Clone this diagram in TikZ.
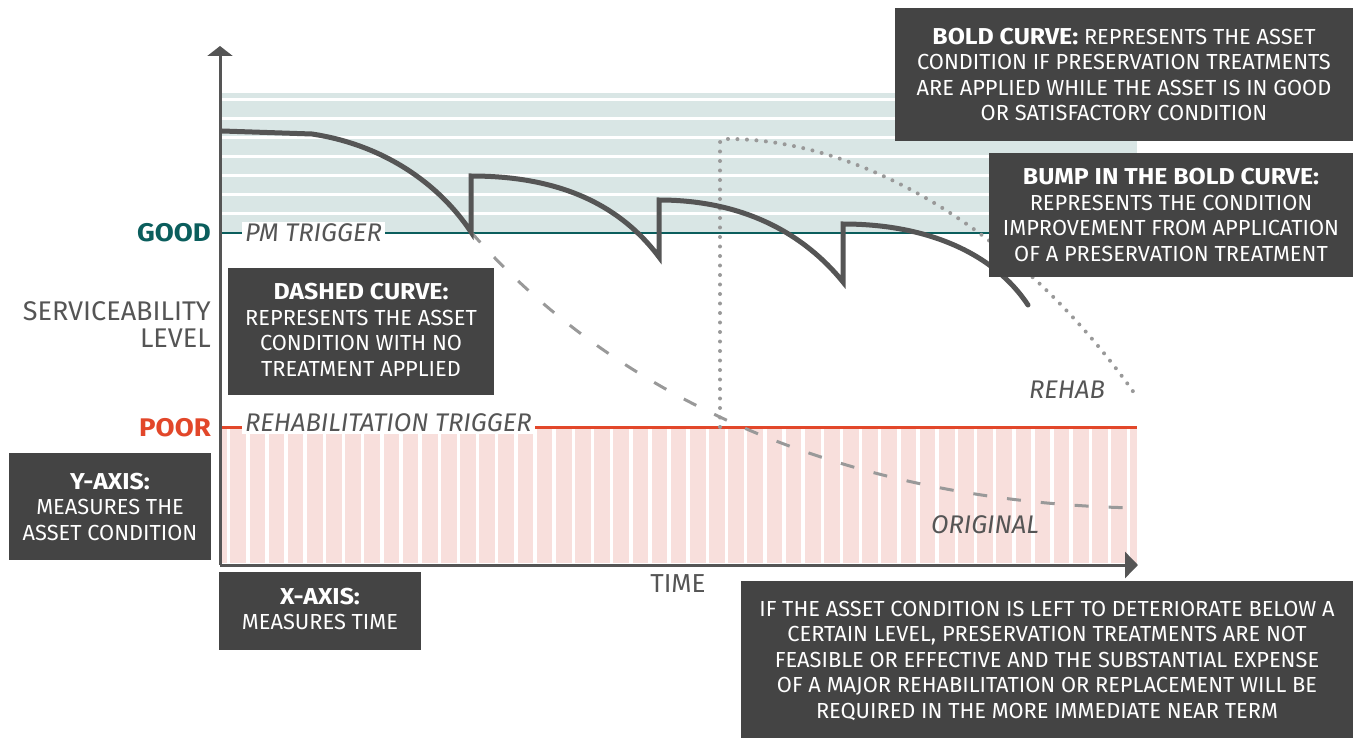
\documentclass[tikz,border=0pt]{standalone}
\usepackage{fontspec}
\setmainfont{Fira Sans}
\newfontfamily\hdfont[FakeStretch=1.08]{Fira Sans}
\usetikzlibrary{arrows.meta}
\definecolor{boxgray}{HTML}{444444}
\definecolor{axisgray}{HTML}{555555}
\definecolor{goodteal}{HTML}{0B5E5D}
\definecolor{poorred}{HTML}{E2472A}
\definecolor{greenband}{HTML}{D9E6E5}
\definecolor{redband}{HTML}{F8DFDC}
\definecolor{dashgray}{HTML}{999999}
\newcommand{\hd}[1]{{\hdfont\bfseries\fontsize{23}{25.5}\selectfont #1}}
\tikzset{
  infobox/.style={fill=boxgray, text=white, align=center, inner sep=0pt,
    font=\fontsize{21.8}{25.5}\selectfont},
  axislabel/.style={text=axisgray, inner sep=0pt, font=\fontsize{27}{27}\selectfont},
  levellabel/.style={anchor=east, inner sep=0pt, font=\hdfont\bfseries\fontsize{25.5}{27}\selectfont},
  triglabel/.style={fill=white, text=axisgray, inner xsep=3pt, inner ysep=2pt,
    font=\fontsize{25.5}{27}\selectfont\itshape},
  curvelabel/.style={text=axisgray, inner sep=0pt, font=\fontsize{25.5}{27}\selectfont\itshape},
  boldcurve/.style={draw=axisgray, line width=5pt, line cap=round, line join=miter},
  nocurve/.style={draw=dashgray, line width=3pt, dash pattern=on 14pt off 20pt},
  rehabcurve/.style={draw=dashgray, line width=4pt, line cap=round, dash pattern=on 0pt off 9.5pt},
  axisline/.style={draw=axisgray, line width=3pt},
}
\begin{document}
\begin{tikzpicture}[x=1pt,y=-1pt]
\useasboundingbox (0,0) rectangle (1353,738);
% bands
\fill[greenband] (220,93) rectangle (1137,233);
\foreach \yy in {100,119,138,157,176,195,214}
  \draw[white, line width=3pt] (220,\yy) -- (1137,\yy);
\fill[redband] (220,427) rectangle (1137,563);
\foreach \k in {0,...,47}
  \draw[white, line width=3.5pt] ({228.6+19.15*\k},429) -- ({228.6+19.15*\k},563);
% threshold lines
\coordinate (g0) at (220,233);
\coordinate (g1) at (1137,233);
\coordinate (p0) at (220,427);
\coordinate (p1) at (1137,427);
\draw[goodteal, line width=2.5pt] (g0) -- (g1);
\draw[poorred, line width=3pt] (p0) -- (p1);
\node[triglabel, anchor=west] (pm) at (242,233) {PM TRIGGER};
\node[triglabel, anchor=west] (rt) at (242,423) {REHABILITATION TRIGGER};
% level labels
\node[levellabel, text=goodteal] (good) at (211,233) {GOOD};
\node[levellabel, text=poorred] (poor) at (211,428) {POOR};
\node[axislabel, anchor=east, align=right] (serv) at (211,325) {SERVICEABILITY\\LEVEL};
% curves
\draw[nocurve] (471,232) .. controls (600,380) and (820,502) .. (1137,508);
\draw[rehabcurve] (720,427) -- (720,145) .. controls (720,139) .. (728,139) .. controls (860,139) and (1020,230) .. (1137,397);
\draw[boldcurve] (222,131) -- (312,134) .. controls (385,145) and (440,185) .. (471,232)
  -- (471,176) .. controls (560,176) and (620,205) .. (659,257)
  -- (659,200) .. controls (745,200) and (805,235) .. (843,282)
  -- (843,224) .. controls (930,224) and (995,255) .. (1028,305);
\node[curvelabel] (rehab) at (1067,390) {REHAB};
\node[curvelabel] (orig) at (985,525) {ORIGINAL};
% axes
\coordinate (origin) at (220,565);
\coordinate (ytop) at (220,46);
\coordinate (xend) at (1138,565);
\draw[axisline, -{Triangle[length=10pt,width=25pt]}] (origin) -- (ytop);
\draw[axisline, -{Triangle[length=13pt,width=26pt]}] (origin) -- (xend);
\node[axislabel, font=\fontsize{26}{26}\selectfont] (time) at (678,584) {TIME};
% info boxes
\node[infobox, minimum width=458pt, minimum height=133pt, text depth=-4pt] (boldbox) at (1124,74.5)
  {\hd{BOLD CURVE:} REPRESENTS THE ASSET\\CONDITION IF PRESERVATION TREATMENTS\\ARE APPLIED WHILE THE ASSET IS IN GOOD\\OR SATISFACTORY CONDITION};
\node[infobox, minimum width=364pt, minimum height=124pt] (bumpbox) at (1171,215)
  {\hd{BUMP IN THE BOLD CURVE:}\\REPRESENTS THE CONDITION\\IMPROVEMENT FROM APPLICATION\\OF A PRESERVATION TREATMENT};
\node[infobox, minimum width=266pt, minimum height=127pt, text depth=3pt] (dashbox) at (361,331.5)
  {\hd{DASHED CURVE:}\\REPRESENTS THE ASSET\\CONDITION WITH NO\\TREATMENT APPLIED};
\node[infobox, minimum width=202pt, minimum height=107pt] (ybox) at (110,506.5)
  {\hd{Y-AXIS:}\\MEASURES THE\\ASSET CONDITION};
\node[infobox, minimum width=202pt, minimum height=78pt, text depth=4pt] (xbox) at (320,611)
  {\hd{X-AXIS:}\\MEASURES TIME};
\node[infobox, minimum width=612pt, minimum height=157pt, text depth=-5pt] (notebox) at (1047,659.5)
  {IF THE ASSET CONDITION IS LEFT TO DETERIORATE BELOW A\\CERTAIN LEVEL, PRESERVATION TREATMENTS ARE NOT\\FEASIBLE OR EFFECTIVE AND THE SUBSTANTIAL EXPENSE\\OF A MAJOR REHABILITATION OR REPLACEMENT WILL BE\\REQUIRED IN THE MORE IMMEDIATE NEAR TERM};
\end{tikzpicture}
\end{document}
